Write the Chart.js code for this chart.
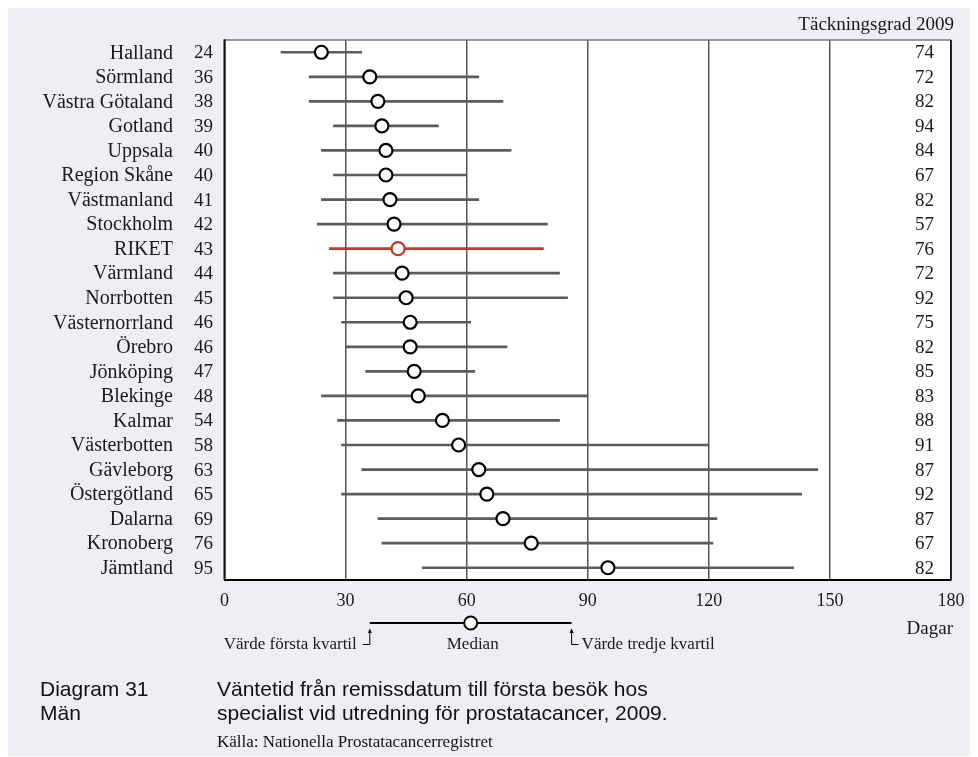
<!DOCTYPE html>
<html>
<head>
<meta charset="utf-8">
<script src="https://cdn.jsdelivr.net/npm/chart.js@4.4.0/dist/chart.umd.min.js"></script>
<style>
  html, body { margin: 0; padding: 0; background: #ffffff; }
  #wrap { width: 978px; height: 757px; position: relative; }
</style>
</head>
<body>
<div id="wrap"><canvas id="c" width="978" height="757"></canvas></div>
<script>
// Väntetid (dagar) från remiss till första besök, per region, 2009
const regions = [
  'Halland', 'Sörmland', 'Västra Götaland', 'Gotland', 'Uppsala', 'Region Skåne',
  'Västmanland', 'Stockholm', 'RIKET', 'Värmland', 'Norrbotten', 'Västernorrland',
  'Örebro', 'Jönköping', 'Blekinge', 'Kalmar', 'Västerbotten', 'Gävleborg',
  'Östergötland', 'Dalarna', 'Kronoberg', 'Jämtland'
];
const medians = [24, 36, 38, 39, 40, 40, 41, 42, 43, 44, 45, 46, 46, 47, 48, 54, 58, 63, 65, 69, 76, 95];
const firstQuartile = [14, 21, 21, 27, 24, 27, 24, 23, 26, 27, 27, 29, 30, 35, 24, 28, 29, 34, 29, 38, 39, 49];
const thirdQuartile = [34, 63, 69, 53, 71, 60, 63, 80, 79, 83, 85, 61, 70, 62, 90, 83, 120, 147, 143, 122, 121, 141];
const coverage = [74, 72, 82, 94, 84, 67, 82, 57, 76, 72, 92, 75, 82, 85, 83, 88, 91, 87, 92, 87, 67, 82];
const xTickValues = [0, 30, 60, 90, 120, 150, 180];

// Förklaringsexemplet under diagrammet (kvartiler och median i dagar)
const legendQ1 = 36;
const legendMedian = 61;
const legendQ3 = 86;

const TOTAL = 'RIKET';
const GREY = '#5b5b5b';
const RED = '#c0392b';
const SERIF = '"Liberation Serif", "Times New Roman", serif';
const SANS = '"Liberation Sans", Arial, sans-serif';
const PANEL = '#eeeff4';

const isTotal = regions.map(r => r === TOTAL);

const decor = {
  id: 'decor',
  beforeDraw(chart) {
    const { ctx, chartArea: a } = chart;
    ctx.save();
    ctx.fillStyle = '#ffffff';
    ctx.fillRect(0, 0, chart.width, chart.height);
    ctx.fillStyle = PANEL;
    ctx.fillRect(8, 8, 962, 748);
    ctx.fillStyle = '#ffffff';
    ctx.fillRect(a.left, a.top, a.right - a.left, a.bottom - a.top);
    ctx.restore();
  },
  afterDraw(chart) {
    const { ctx, chartArea: a } = chart;
    const xs = chart.scales.x;
    const ys = chart.scales.y;
    ctx.save();

    // Ram runt diagramytan
    ctx.lineCap = 'butt';
    ctx.strokeStyle = '#777';
    ctx.lineWidth = 1.5;
    ctx.beginPath(); ctx.moveTo(a.left, a.top); ctx.lineTo(a.right, a.top); ctx.stroke();
    ctx.strokeStyle = '#111';
    ctx.beginPath(); ctx.moveTo(a.right, a.top); ctx.lineTo(a.right, a.bottom); ctx.stroke();
    ctx.lineWidth = 2;
    ctx.beginPath(); ctx.moveTo(a.left, a.top - 0.75); ctx.lineTo(a.left, a.bottom); ctx.stroke();

    // Regionnamn, median och täckningsgrad per rad
    ctx.textBaseline = 'middle';
    ctx.fillStyle = '#1a1a1a';
    regions.forEach((name, i) => {
      const y = ys.getPixelForValue(i) + 1;
      ctx.font = '20px ' + SERIF;
      ctx.textAlign = 'right';
      ctx.fillText(name, 173, y);
      ctx.font = '19px ' + SERIF;
      ctx.fillText(String(medians[i]), 213, y);
      ctx.fillText(String(coverage[i]), 934, y);
    });

    ctx.font = '19px ' + SERIF;
    ctx.textAlign = 'right';
    ctx.fillText('Täckningsgrad 2009', 954, 25);
    ctx.fillText('Dagar', 953, 629);

    // Förklaring: kvartilspann med median
    const lx1 = xs.getPixelForValue(legendQ1);
    const lx2 = xs.getPixelForValue(legendQ3);
    const lxm = xs.getPixelForValue(legendMedian);
    const ly = 623;
    ctx.strokeStyle = '#000';
    ctx.lineWidth = 2;
    ctx.beginPath(); ctx.moveTo(lx1, ly); ctx.lineTo(lx2, ly); ctx.stroke();
    ctx.beginPath(); ctx.arc(lxm, ly, 6.5, 0, Math.PI * 2);
    ctx.fillStyle = '#fff'; ctx.fill(); ctx.stroke();

    ctx.lineWidth = 1;
    const arrow = (x, dir) => {
      ctx.beginPath();
      ctx.moveTo(x, 631); ctx.lineTo(x, 644.5); ctx.lineTo(x + dir * 7, 644.5);
      ctx.stroke();
      ctx.beginPath();
      ctx.moveTo(x, 628.5); ctx.lineTo(x - 2, 633); ctx.lineTo(x + 2, 633); ctx.closePath();
      ctx.fillStyle = '#000'; ctx.fill();
    };
    arrow(lx1, -1);
    arrow(lx2, 1);

    ctx.fillStyle = '#1a1a1a';
    ctx.font = '17px ' + SERIF;
    ctx.textAlign = 'right';
    ctx.fillText('Värde första kvartil', lx1 - 13, 645);
    ctx.textAlign = 'center';
    ctx.fillText('Median', lxm + 2, 645);
    ctx.textAlign = 'left';
    ctx.fillText('Värde tredje kvartil', lx2 + 10, 645);

    // Diagramrubrik och källa
    ctx.fillStyle = '#111';
    ctx.font = '21px ' + SANS;
    ctx.textBaseline = 'alphabetic';
    ctx.fillText('Diagram 31', 40, 696);
    ctx.fillText('Män', 40, 720);
    ctx.fillText('Väntetid från remissdatum till första besök hos', 217, 696);
    ctx.fillText('specialist vid utredning för prostatacancer, 2009.', 217, 720);
    ctx.font = '17px ' + SERIF;
    ctx.fillText('Källa: Nationella Prostatacancerregistret', 217, 747);

    ctx.restore();
  }
};

new Chart(document.getElementById('c'), {
  type: 'bar',
  data: {
    labels: regions,
    datasets: [
      {
        type: 'line',
        label: 'Median',
        data: medians,
        showLine: false,
        pointRadius: 6.5,
        pointHoverRadius: 6.5,
        pointBorderWidth: 2.2,
        pointBackgroundColor: '#ffffff',
        pointBorderColor: isTotal.map(t => t ? RED : '#000000'),
        order: 0
      },
      {
        type: 'bar',
        label: 'Kvartilavstånd',
        data: firstQuartile.map((q, i) => [q, thirdQuartile[i]]),
        backgroundColor: isTotal.map(t => t ? RED : GREY),
        borderWidth: 0,
        barThickness: 2,
        order: 1
      }
    ]
  },
  options: {
    indexAxis: 'y',
    responsive: false,
    animation: false,
    devicePixelRatio: 1,
    layout: { padding: { left: 224.5, right: 27, top: 40, bottom: 145 } },
    plugins: { legend: { display: false }, tooltip: { enabled: false } },
    scales: {
      x: {
        type: 'linear',
        position: 'bottom',
        min: 0,
        max: 180,
        afterBuildTicks: s => { s.ticks = xTickValues.map(v => ({ value: v })); },
        afterFit: s => { s.height = 32; },
        ticks: {
          font: { family: SERIF, size: 18 },
          color: '#1a1a1a',
          padding: 10,
          maxRotation: 0
        },
        grid: {
          drawTicks: false,
          color: c => (c.tick && (c.tick.value === 180)) ? '#111' : '#555',
          lineWidth: 1.5
        },
        border: { display: true, color: '#000', width: 2 }
      },
      y: {
        type: 'category',
        display: false,
        offset: true
      }
    }
  },
  plugins: [decor]
});
</script>
</body>
</html>
